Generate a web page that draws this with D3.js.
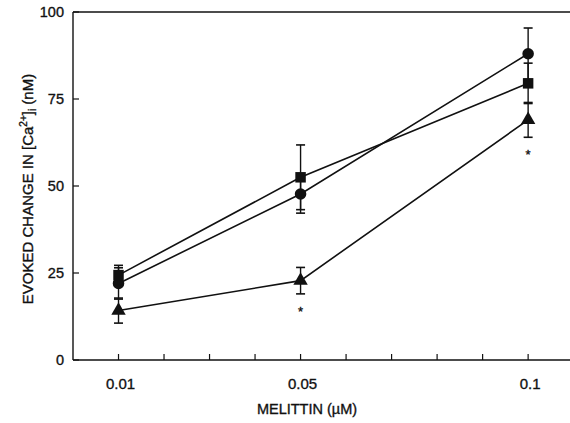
<!DOCTYPE html>
<html>
<head>
<meta charset="utf-8">
<script src="https://cdn.jsdelivr.net/npm/d3@7"></script>
<style>
  body { margin: 0; background: #fff; }
  text { font-family: "Liberation Sans", Arial, sans-serif; fill: #111; stroke: #111; stroke-width: 0.35; }
</style>
</head>
<body>
<svg width="570" height="423"></svg>
<script>
'use strict';

// melittin doses (uM)
const doses = [0.01, 0.05, 0.1];
const circleMean = [22, 47.7, 88];
const circleErr = [4.5, 5.5, 7.4];
const squareMean = [24.4, 52.5, 79.5];
const squareErr = [2.8, 9.3, 5.8];
const triangleMean = [14.2, 22.8, 69];
const triangleErr = [3.6, 3.8, 5];
const triangleStars = [false, true, true];
const xTicks = [0.01, 0.02, 0.03, 0.04, 0.05, 0.06, 0.07, 0.08, 0.09, 0.1];
const xTickLabels = [0.01, 0.05, 0.1];
const yTicks = [0, 25, 50, 75, 100];

const svg = d3.select("svg");
const mLeft = 73, mTop = 12, mBottom = 360, mRight = 570;

const x = d3.scaleLinear().domain([0, 0.1092]).range([mLeft, mRight]);
const y = d3.scaleLinear().domain([0, 100]).range([mBottom, mTop]);

// frame: left, bottom, top
svg.append("line").attr("x1", mLeft).attr("x2", mLeft).attr("y1", mTop).attr("y2", mBottom)
    .attr("stroke", "#111").attr("stroke-width", 1.4);
svg.append("line").attr("x1", mLeft).attr("x2", mRight).attr("y1", mBottom).attr("y2", mBottom)
    .attr("stroke", "#111").attr("stroke-width", 1.4);
svg.append("line").attr("x1", mLeft).attr("x2", mRight).attr("y1", mTop).attr("y2", mTop)
    .attr("stroke", "#111").attr("stroke-width", 1.4);

// y ticks (inside)
svg.selectAll(".ytick").data(yTicks).enter().append("line")
    .attr("x1", mLeft).attr("x2", mLeft + 6)
    .attr("y1", d => y(d)).attr("y2", d => y(d))
    .attr("stroke", "#111").attr("stroke-width", 1.2);
svg.selectAll(".ylab").data(yTicks).enter().append("text")
    .attr("x", mLeft - 9).attr("y", d => y(d) + 5)
    .attr("text-anchor", "end").attr("font-size", 14.5)
    .text(d => d);

// x ticks (inside)
svg.selectAll(".xtick").data(xTicks).enter().append("line")
    .attr("x1", d => x(d)).attr("x2", d => x(d))
    .attr("y1", mBottom).attr("y2", mBottom - 6)
    .attr("stroke", "#111").attr("stroke-width", 1.2);
svg.selectAll(".xlab").data(xTickLabels).enter().append("text")
    .attr("x", d => x(d) + 2).attr("y", mBottom + 29)
    .attr("text-anchor", "middle").attr("font-size", 15)
    .text(d => d);

// axis titles
svg.append("text").attr("x", 307).attr("y", 414)
    .attr("text-anchor", "middle").attr("font-size", 14.5)
    .text("MELITTIN (\u00b5M)");

let yl = svg.append("text")
    .attr("transform", "translate(33,189) rotate(-90)")
    .attr("text-anchor", "middle").attr("font-size", 15);
yl.append("tspan").text("EVOKED CHANGE IN [Ca");
yl.append("tspan").attr("font-size", 10).attr("dy", -6).text("2+");
yl.append("tspan").attr("dy", 6).text("]");
yl.append("tspan").attr("font-size", 10).attr("dy", 3).text("i");
yl.append("tspan").attr("dy", -3).text(" (nM)");

const series = [
    {mean: circleMean, err: circleErr, shape: d3.symbolCircle, size: 105},
    {mean: squareMean, err: squareErr, shape: d3.symbolSquare, size: 110},
    {mean: triangleMean, err: triangleErr, shape: d3.symbolTriangle, size: 90}
];

const line = d3.line().x(d => x(d[0])).y(d => y(d[1]));

series.forEach(function (s) {
    let pts = doses.map((d, i) => [d, s.mean[i], s.err[i]]);
    let g = svg.append("g");

    // error bars
    pts.forEach(function (p) {
        g.append("line").attr("x1", x(p[0])).attr("x2", x(p[0]))
            .attr("y1", y(p[1] - p[2])).attr("y2", y(p[1] + p[2]))
            .attr("stroke", "#111").attr("stroke-width", 1.4);
        [p[1] - p[2], p[1] + p[2]].forEach(function (v) {
            g.append("line").attr("x1", x(p[0]) - 4.5).attr("x2", x(p[0]) + 4.5)
                .attr("y1", y(v)).attr("y2", y(v))
                .attr("stroke", "#111").attr("stroke-width", 1.6);
        });
    });

    g.append("path").datum(pts).attr("d", line)
        .attr("fill", "none").attr("stroke", "#111").attr("stroke-width", 1.6);

    g.selectAll(".pt").data(pts).enter().append("path")
        .attr("d", d3.symbol().type(s.shape).size(s.size))
        .attr("transform", d => "translate(" + x(d[0]) + "," + y(d[1]) + ")")
        .attr("fill", "#111");
});

// significance asterisks under triangle series
svg.selectAll(".star").data(doses.map((d, i) => [d, triangleMean[i] - triangleErr[i], triangleStars[i]]).filter(d => d[2]))
    .enter().append("text")
    .attr("x", d => x(d[0])).attr("y", d => y(d[1] - 4.5) + 6)
    .attr("text-anchor", "middle").attr("font-size", 13)
    .text("*");
</script>
</body>
</html>
